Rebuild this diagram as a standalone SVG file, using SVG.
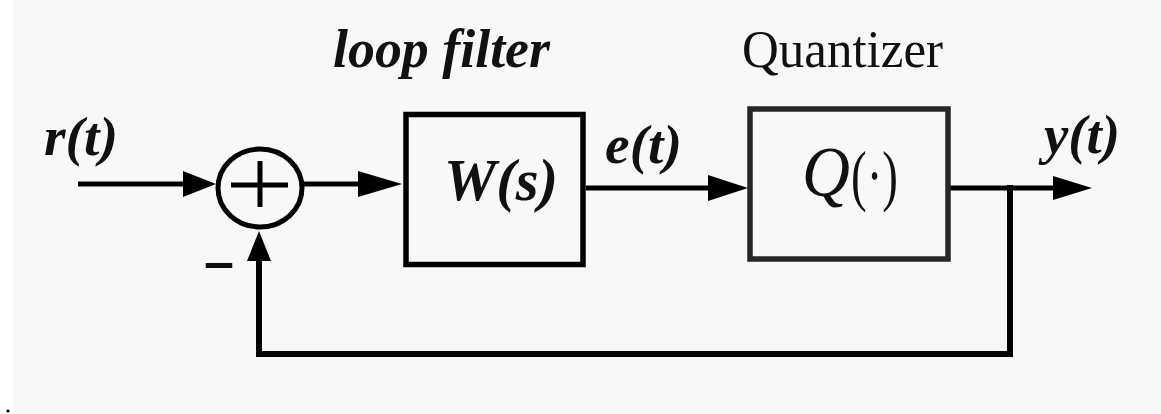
<svg xmlns="http://www.w3.org/2000/svg" width="1161" height="414" viewBox="0 0 1161 414">
  <style>
    .wire { fill: none; stroke: #000; stroke-width: 5; stroke-linejoin: miter; }
    .fb { fill: none; stroke: #000; stroke-width: 6; }
    .block { fill: none; stroke-width: 5.5; }
    .head { fill: #000; }
    .lbl { font-family: "Liberation Serif", "Times New Roman", serif; fill: #111; }
    .bi { font-weight: bold; font-style: italic; }
  </style>

  <!-- page -->
  <rect x="0" y="0" width="1161" height="414" fill="#ffffff"/>
  <rect x="13" y="0" width="1148" height="414" fill="#f8f8f8"/>
  <circle cx="8" cy="411" r="1.6" fill="#000"/>

  <!-- connectors -->
  <g id="connectors">
    <!-- r(t) into summing junction -->
    <line class="wire" x1="78" y1="184" x2="186" y2="184"/>
    <polygon class="head" points="183,171 216,184 183,197"/>
    <!-- junction to loop filter -->
    <line class="wire" x1="302" y1="184" x2="362" y2="184"/>
    <polygon class="head" points="358,171 402,184 358,197"/>
    <!-- e(t) to quantizer -->
    <line class="wire" x1="586" y1="188" x2="712" y2="188"/>
    <polygon class="head" points="708,175 748,188 708,201"/>
    <!-- y(t) output -->
    <line class="wire" x1="950" y1="188" x2="1056" y2="188"/>
    <polygon class="head" points="1053,176 1092,188 1053,200"/>
    <!-- feedback path -->
    <polyline class="fb" points="1010,185 1010,354 259,354 259,258"/>
    <polygon class="head" points="247,261 259,231 271,261"/>
  </g>

  <!-- summing junction -->
  <g id="sum">
    <ellipse cx="260" cy="188" rx="42" ry="39" fill="none" stroke="#000" stroke-width="5"/>
    <line x1="231" y1="185" x2="288" y2="185" stroke="#000" stroke-width="5"/>
    <line x1="260" y1="161" x2="260" y2="207" stroke="#000" stroke-width="5"/>
    <text class="lbl" x="202" y="279" font-family="Liberation Sans, Arial, sans-serif" font-weight="bold" font-size="60" textLength="34" lengthAdjust="spacingAndGlyphs">-</text>
  </g>

  <!-- input label -->
  <g id="input">
    <text class="lbl bi" x="44" y="155" font-size="54" textLength="74" lengthAdjust="spacingAndGlyphs">r(t)</text>
  </g>

  <!-- loop filter block -->
  <g id="loop-filter">
    <rect class="block" x="406" y="114.5" width="177" height="150" stroke="#000"/>
    <text class="lbl bi" x="333" y="67" font-size="54" textLength="217" lengthAdjust="spacingAndGlyphs">loop filter</text>
    <text class="lbl bi" x="444" y="200" font-size="60" textLength="114" lengthAdjust="spacingAndGlyphs">W(s)</text>
  </g>

  <!-- error signal label -->
  <g id="error">
    <text class="lbl bi" x="605" y="163" font-size="54" textLength="77" lengthAdjust="spacingAndGlyphs">e(t)</text>
  </g>

  <!-- quantizer block -->
  <g id="quantizer">
    <rect class="block" x="750" y="109" width="198" height="150" stroke="#262626"/>
    <text class="lbl" x="742" y="67" font-size="53" textLength="201" lengthAdjust="spacingAndGlyphs">Quantizer</text>
    <text class="lbl" x="802" y="196" font-size="72" font-style="italic" textLength="48" lengthAdjust="spacingAndGlyphs">Q</text>
    <text class="lbl" x="851" y="198" font-size="68" textLength="47" lengthAdjust="spacingAndGlyphs">(·)</text>
  </g>

  <!-- output label -->
  <g id="output">
    <text class="lbl bi" x="1044" y="153" font-size="54" textLength="76" lengthAdjust="spacingAndGlyphs">y(t)</text>
  </g>
</svg>
